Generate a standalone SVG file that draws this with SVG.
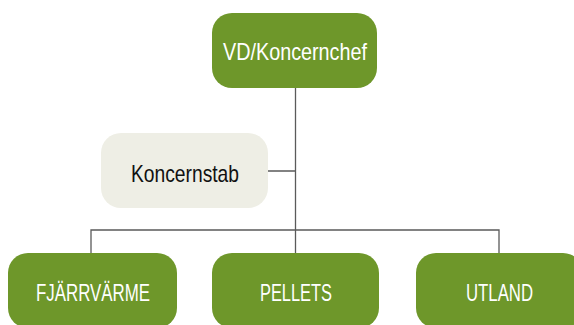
<svg xmlns="http://www.w3.org/2000/svg" width="574" height="325" viewBox="0 0 574 325">
<style>
.g{fill:#6e972a}
.l{fill:#eeeee5}
.t{font-family:"Liberation Sans",Arial,sans-serif;font-size:24px;text-anchor:middle}
.w{fill:#ffffff}
.k{fill:#111111}
.c{stroke:#5a5a5a;stroke-width:1.3;fill:none}
</style>
<rect width="574" height="325" fill="#ffffff"/>
<g id="connectors">
<path class="c" d="M295.5 88V253M268 171H295.5M91 253V230H499V253"/>
</g>
<g id="vd">
<rect class="g" x="212" y="13" width="165" height="75" rx="20"/>
<text class="t w" x="295" y="60" textLength="144" lengthAdjust="spacingAndGlyphs">VD/Koncernchef</text>
</g>
<g id="koncernstab">
<rect class="l" x="101" y="133" width="167" height="75" rx="20"/>
<text class="t k" x="185" y="182" textLength="108" lengthAdjust="spacingAndGlyphs">Koncernstab</text>
</g>
<g id="fjarrvarme">
<rect class="g" x="8" y="253" width="169" height="75" rx="20"/>
<text class="t w" x="93" y="301" textLength="114" lengthAdjust="spacingAndGlyphs">FJÄRRVÄRME</text>
</g>
<g id="pellets">
<rect class="g" x="212" y="253" width="167" height="75" rx="20"/>
<text class="t w" x="296" y="301" textLength="72" lengthAdjust="spacingAndGlyphs">PELLETS</text>
</g>
<g id="utland">
<rect class="g" x="416" y="253" width="167" height="75" rx="20"/>
<text class="t w" x="499.5" y="301" textLength="67" lengthAdjust="spacingAndGlyphs">UTLAND</text>
</g>
</svg>
